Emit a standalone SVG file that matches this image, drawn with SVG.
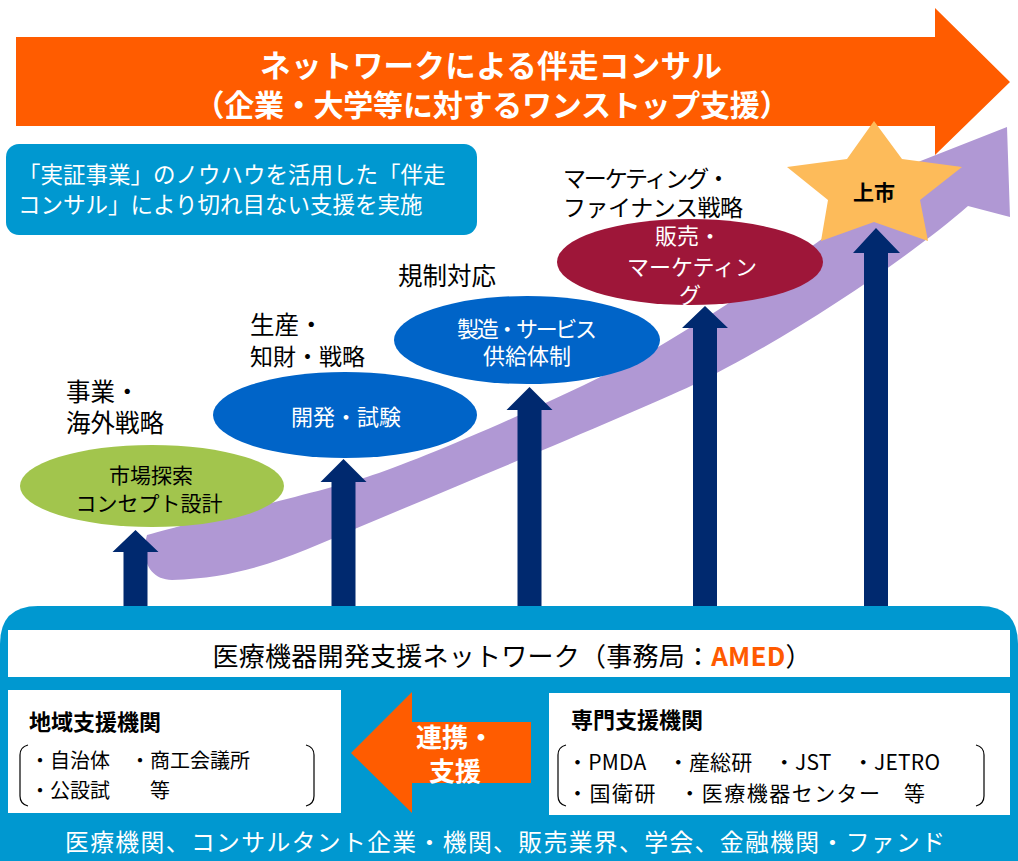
<svg xmlns="http://www.w3.org/2000/svg" width="1018" height="861" viewBox="0 0 1018 861">
<style>
text{font-family:"Noto Sans CJK JP","Noto Sans",sans-serif;}
.up{fill:#00296f;}
.lbl{font-size:23px;fill:#000;}
.big{font-size:24.5px;}
.el{font-size:22px;fill:#fff;text-anchor:middle;}
.br{fill:none;stroke:#000;stroke-width:1.2;}
.wbox{fill:#fff;}
</style>
<rect width="1018" height="861" fill="#fff"/>
<g id="growth-band">
<path d="M172,580 C250,578 300,552 357,528 C500,468 640,410 693,385 C780,343 900,265 968,206 L1010,217 L1007,127 L918,162 C870,205 780,275 653,350 C560,400 420,460 367,477 C320,492 200,520 147,535 C140,560 150,580 172,580 Z" fill="#b098d4"/>
</g>
<g id="title-arrow">
<polygon points="16,37 935,37 935,8 1010,82 935,155 935,126 16,126" fill="#ff5c00"/>
<text x="491" y="77" text-anchor="middle" font-size="30.5" font-weight="bold" fill="#fff" textLength="462">ネットワークによる伴走コンサル</text>
<text x="492" y="116" text-anchor="middle" font-size="30" font-weight="bold" fill="#fff" textLength="595">（企業・大学等に対するワンストップ支援）</text>
</g>
<g id="connectors">
<polygon class="up" points="123.5,606 123.5,552 112.5,552 135.5,530 158.5,552 147.5,552 147.5,606"/>
<polygon class="up" points="331.5,606 331.5,482 320.5,482 343.5,459 366.5,482 355.5,482 355.5,606"/>
<polygon class="up" points="517.5,606 517.5,410 506.5,410 529.5,387 552.5,410 541.5,410 541.5,606"/>
<polygon class="up" points="693,606 693,328 682,328 705,306 728,328 717,328 717,606"/>
<polygon class="up" points="864,606 864,253 853,253 876,228 900,253 888,253 888,606"/>
</g>
<g id="node-concept">
<ellipse cx="152" cy="486" rx="132" ry="41" fill="#a2c54d"/>
<text x="151" y="483" text-anchor="middle" font-size="21" fill="#000">市場探索</text>
<text x="149" y="511" text-anchor="middle" font-size="21" fill="#000">コンセプト設計</text>
</g>
<g id="node-dev">
<ellipse cx="345" cy="415" rx="132" ry="43" fill="#0064c8"/>
<text class="el" x="346" y="425" font-size="23">開発・試験</text>
</g>
<g id="node-mfg">
<ellipse cx="527" cy="340" rx="133" ry="44" fill="#0064c8"/>
<text class="el" x="527" y="337" textLength="140">製造・サービス</text>
<text class="el" x="527" y="364">供給体制</text>
</g>
<g id="node-sales">
<ellipse cx="690" cy="262" rx="133" ry="43" fill="#9e1639"/>
<text class="el" x="688" y="244">販売・</text>
<text class="el" x="692" y="275">マーケティン</text>
<text class="el" x="690" y="303">グ</text>
</g>
<g id="node-ipo">
<polygon points="874,121 902,159 962,167 920,200 928,241 874,222 821,241 828,200 787,167 847,159" fill="#fdbb5a"/>
<text x="874" y="200" text-anchor="middle" font-size="21" font-weight="bold" fill="#000">上市</text>
</g>
<g id="labels">
<text class="lbl big" x="66" y="401">事業・</text>
<text class="lbl big" x="66" y="432">海外戦略</text>
<text class="lbl big" x="250" y="334">生産・</text>
<text class="lbl" x="250" y="365" textLength="115">知財・戦略</text>
<text class="lbl big" x="398" y="285">規制対応</text>
<text class="lbl" x="563" y="187" textLength="167">マーケティング・</text>
<text class="lbl" x="563" y="216" textLength="180">ファイナンス戦略</text>
</g>
<g id="note-box">
<rect x="6" y="144" width="471" height="91" rx="13" fill="#0098d0"/>
<text x="18" y="183" font-size="22.5" fill="#fff">「実証事業」のノウハウを活用した「伴走</text>
<text x="18" y="213" font-size="22.5" fill="#fff">コンサル」により切れ目ない支援を実施</text>
</g>
<g id="network">
<path d="M0,861 L0,644 Q0,606 38,606 L980,606 Q1018,606 1018,644 L1018,861 Z" fill="#0098d0"/>
<rect class="wbox" x="8" y="630" width="1002" height="47"/>
<text x="512" y="666" text-anchor="middle" font-size="26" fill="#000" textLength="599">医療機器開発支援ネットワーク（事務局：<tspan fill="#ff5a00" font-weight="bold">AMED</tspan>）</text>
<text x="505" y="851" text-anchor="middle" font-size="23.8" fill="#fff" textLength="880">医療機関、コンサルタント企業・機関、販売業界、学会、金融機関・ファンド</text>
</g>
<g id="regional">
<rect class="wbox" x="8" y="690" width="333" height="123"/>
<text x="29" y="730" font-size="22" font-weight="bold" fill="#000">地域支援機関</text>
<path class="br" d="M28,745 Q20,747 20,755 L20,796 Q20,804 28,806"/>
<path class="br" d="M306,745 Q314,747 314,755 L314,796 Q314,804 306,806"/>
<text x="30" y="768" font-size="20" fill="#000">・自治体　・商工会議所</text>
<text x="30" y="798" font-size="20" fill="#000">・公設試　　等</text>
</g>
<g id="specialist">
<rect class="wbox" x="549" y="693" width="461" height="122"/>
<text x="571" y="728" font-size="22" font-weight="bold" fill="#000">専門支援機関</text>
<path class="br" d="M566,745 Q558,747 558,755 L558,796 Q558,804 566,806"/>
<path class="br" d="M976,745 Q984,747 984,755 L984,796 Q984,804 976,806"/>
<text x="567" y="770" font-size="21" fill="#000" textLength="373">・PMDA　・産総研　・JST　・JETRO</text>
<text x="567" y="801" font-size="21" fill="#000" textLength="358">・国衛研　・医療機器センター　等</text>
</g>
<g id="link-arrow">
<polygon points="351,753 412,692 412,722 531,722 531,783 412,783 412,813" fill="#ff5c00"/>
<text x="455" y="747" text-anchor="middle" font-size="26" font-weight="bold" fill="#fff">連携・</text>
<text x="455" y="781" text-anchor="middle" font-size="26" font-weight="bold" fill="#fff">支援</text>
</g>
</svg>
